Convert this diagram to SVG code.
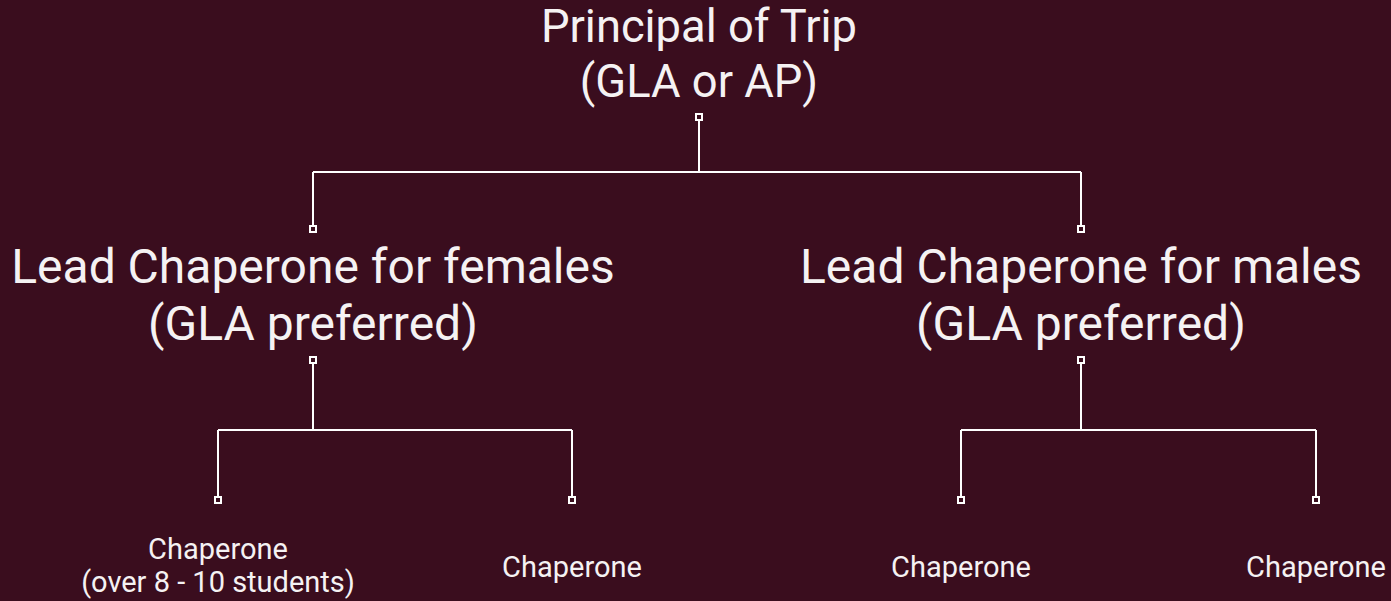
<svg xmlns="http://www.w3.org/2000/svg" width="1391" height="601" viewBox="0 0 1391 601">
<style>
.t{font-family:Roboto,"Liberation Sans",sans-serif;fill:#f5f2f3;text-anchor:middle}
.top{font-size:45.3px}
.big{font-size:48px}
.sm{font-size:29px}
.ln{fill:none;stroke:#ffffff;stroke-width:2}
.pt{fill:#3a0d1e;stroke:#ffffff;stroke-width:2}
</style>
<rect width="1391" height="601" fill="#3a0d1e"/>
<g id="connectors">
<path class="ln" d="M699 117V172M313 172H1081M313 172V229M1081 172V229"/>
<path class="ln" d="M313 360V430M218 430H572M218 430V500M572 430V500"/>
<path class="ln" d="M1081 360V430M961 430H1316M961 430V500M1316 430V500"/>
<rect class="pt" x="696" y="114" width="6" height="6"/>
<rect class="pt" x="310" y="226" width="6" height="6"/>
<rect class="pt" x="1078" y="226" width="6" height="6"/>
<rect class="pt" x="310" y="357" width="6" height="6"/>
<rect class="pt" x="1078" y="357" width="6" height="6"/>
<rect class="pt" x="215" y="497" width="6" height="6"/>
<rect class="pt" x="569" y="497" width="6" height="6"/>
<rect class="pt" x="958" y="497" width="6" height="6"/>
<rect class="pt" x="1313" y="497" width="6" height="6"/>
</g>
<g id="principal"><text class="t top" x="699" y="42">Principal of Trip</text><text class="t top" x="699" y="97">(GLA or AP)</text></g>
<g id="lead-females"><text class="t big" x="313" y="283">Lead Chaperone for females</text><text class="t big" x="313" y="340">(GLA preferred)</text></g>
<g id="lead-males"><text class="t big" x="1081" y="283">Lead Chaperone for males</text><text class="t big" x="1081" y="340">(GLA preferred)</text></g>
<g id="chap1"><text class="t sm" x="218" y="559">Chaperone</text><text class="t sm" x="218" y="592">(over 8 - 10 students)</text></g>
<g id="chap2"><text class="t sm" x="572" y="577">Chaperone</text></g>
<g id="chap3"><text class="t sm" x="961" y="577">Chaperone</text></g>
<g id="chap4"><text class="t sm" x="1316" y="577">Chaperone</text></g>
</svg>
